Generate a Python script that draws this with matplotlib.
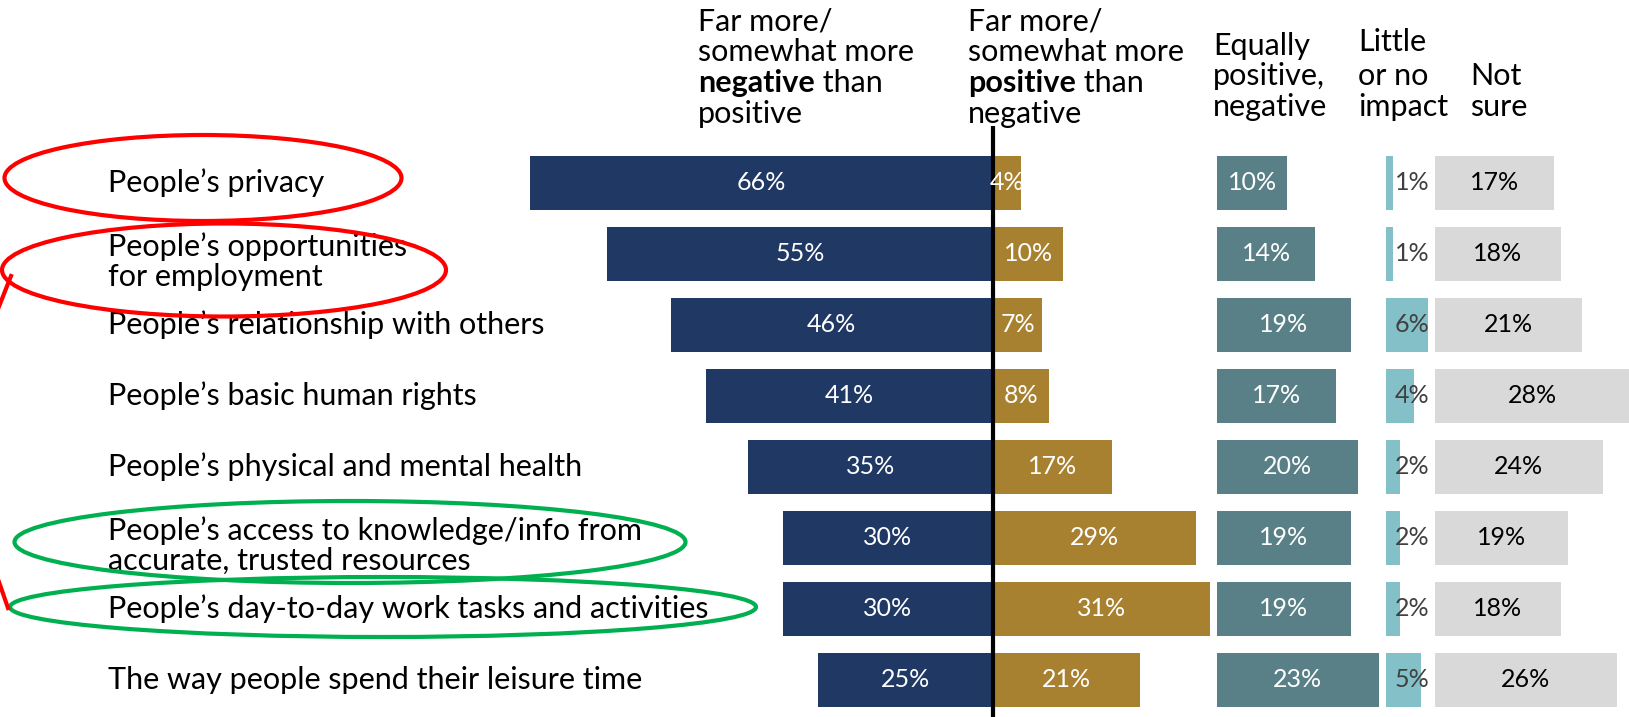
import matplotlib.pyplot as plt
from matplotlib.patches import Ellipse

plt.rcParams['font.family'] = ['Lato', 'DejaVu Sans']

# data (percent)
items = [
    'People\u2019s privacy',
    'People\u2019s opportunities\nfor employment',
    'People\u2019s relationship with others',
    'People\u2019s basic human rights',
    'People\u2019s physical and mental health',
    'People\u2019s access to knowledge/info from\naccurate, trusted resources',
    'People\u2019s day-to-day work tasks and activities',
    'The way people spend their leisure time',
]
more_negative = [66, 55, 46, 41, 35, 30, 30, 25]
more_positive = [4, 10, 7, 8, 17, 29, 31, 21]
equally = [10, 14, 19, 17, 20, 19, 19, 23]
little_impact = [1, 1, 6, 4, 2, 2, 2, 5]
not_sure = [17, 18, 21, 28, 24, 19, 18, 26]

NAVY = '#203864'
GOLD = '#A88130'
TEAL = '#598086'
LIGHTBLUE = '#84C0C8'
GREY = '#D9D9D9'

W, H = 1629, 717
fig = plt.figure(figsize=(W / 100, H / 100), dpi=100)
ax = fig.add_axes([0, 0, 1, 1])
px = 7.01          # pixels per percent
center_px = 993
row0_px, row_step = 183, 70.96
ax.set_xlim(-center_px / px, (W - center_px) / px)
ax.set_ylim((H - row0_px) / row_step, -row0_px / row_step)
ax.axis('off')

rows = list(range(len(items)))
bh = 0.76
vfs = 18

# diverging part
ax.barh(rows, [-v for v in more_negative], height=bh, color=NAVY)
ax.barh(rows, more_positive, height=bh, color=GOLD)
for i in rows:
    ax.text(-more_negative[i] / 2, i, f'{more_negative[i]}%', color='white',
            ha='center', va='center', fontsize=vfs)
    ax.text(more_positive[i] / 2, i, f'{more_positive[i]}%', color='white',
            ha='center', va='center', fontsize=vfs)

# side columns, each one starts after the widest bar of the previous one
gap = 1.0
off_eq = max(more_positive) + gap
off_li = off_eq + max(equally) + gap
off_ns = off_li + max(little_impact) + gap

ax.barh(rows, equally, left=off_eq, height=bh, color=TEAL)
ax.barh(rows, little_impact, left=off_li, height=bh, color=LIGHTBLUE)
ax.barh(rows, not_sure, left=off_ns, height=bh, color=GREY)
for i in rows:
    ax.text(off_eq + equally[i] / 2, i, f'{equally[i]}%', color='white',
            ha='center', va='center', fontsize=vfs)
    ax.text(off_li + max(little_impact) + 0.3, i, f'{little_impact[i]}%', color='#404040',
            ha='right', va='center', fontsize=vfs)
    ax.text(off_ns + not_sure[i] / 2, i, f'{not_sure[i]}%', color='black',
            ha='center', va='center', fontsize=vfs)

# centre line
ax.plot([0, 0], [-0.8, ax.get_ylim()[0]], color='black', lw=3, solid_capstyle='butt')

# row labels
for i, name in enumerate(items):
    ax.text(108 / W, i + (0.11 if '\n' in name else 0), name, transform=ax.get_yaxis_transform(),
            ha='left', va='center', fontsize=22, linespacing=1.08)

# overlay in pixel units for headers and hand-drawn marks
ov = fig.add_axes([0, 0, 1, 1], facecolor='none')
ov.set_xlim(0, W)
ov.set_ylim(H, 0)
ov.axis('off')

hfs = 22


def header(x, lines):
    for y, line in lines:
        if isinstance(line, tuple):
            t = ov.text(x, y, line[0], fontsize=hfs, fontweight='bold', va='center', ha='left')
            ov.annotate(line[1], xy=(1, 0.5), xycoords=t, fontsize=hfs, va='center', ha='left')
        else:
            ov.text(x, y, line, fontsize=hfs, va='center', ha='left')


header(698, [(21, 'Far more/'), (52, 'somewhat more'), (83, ('negative', ' than')), (114, 'positive')])
header(968, [(21, 'Far more/'), (52, 'somewhat more'), (83, ('positive', ' than')), (114, 'negative')])
header(1213, [(46, 'Equally'), (76, 'positive,'), (107, 'negative')])
header(1358, [(42, 'Little'), (76, 'or no'), (107, 'impact')])
header(1470, [(76, 'Not'), (107, 'sure')])

RED = '#FF0000'
GREEN = '#00B050'
for (cx, cy, w, h), c in [((203, 178, 397, 86), RED), ((224, 270, 444, 93), RED),
                          ((350, 542, 671, 82), GREEN), ((383, 607, 746, 60), GREEN)]:
    ov.add_patch(Ellipse((cx, cy), w, h, fill=False, ec=c, lw=3))
ov.plot([11, -2], [276, 309], color=RED, lw=3)
ov.plot([-1, 8], [582, 608], color=RED, lw=3)

fig.savefig('out.png', dpi=100)
